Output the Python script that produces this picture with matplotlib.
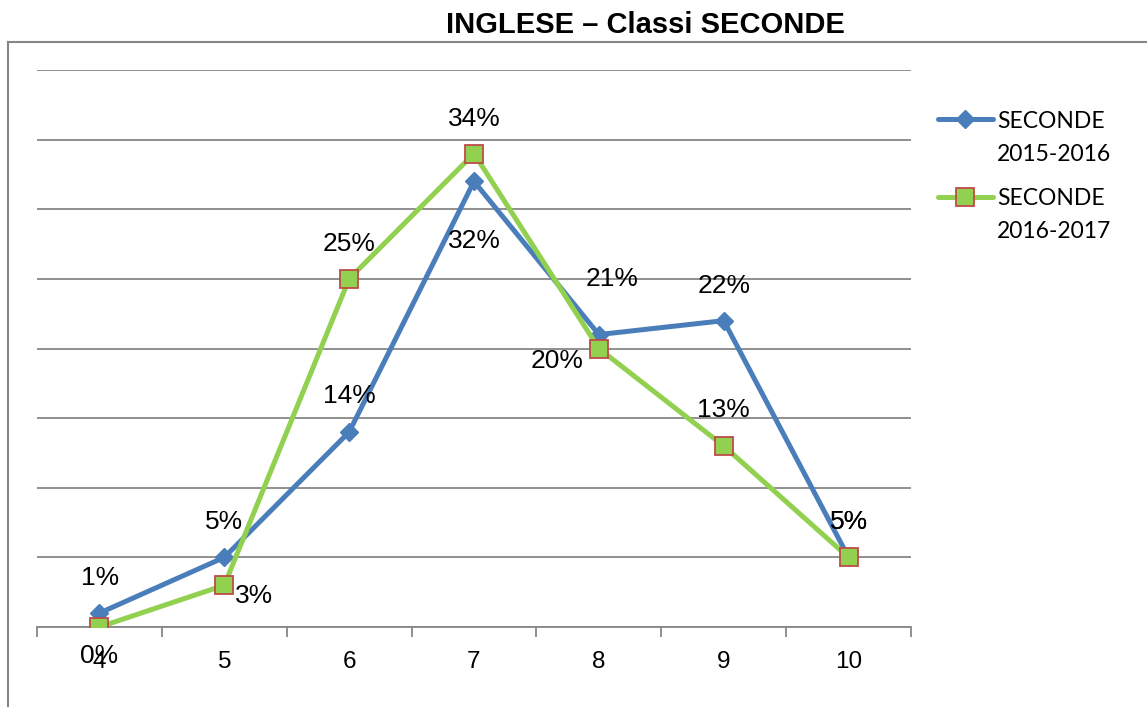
import matplotlib.pyplot as plt
from matplotlib.lines import Line2D
from matplotlib.legend_handler import HandlerLine2D
import numpy as np

# data
voti = ['4', '5', '6', '7', '8', '9', '10']
seconde_1516 = [1, 5, 14, 32, 21, 22, 5]
seconde_1617 = [0, 3, 25, 34, 20, 13, 5]

# label offsets in pixels (dx, dy) for each point
off_1516 = [(1, 35), (0, 35), (0, 36), (0, -60), (13, 56), (0, 35), (0, 35)]
off_1617 = [(0, -29), (30, -11), (0, 35), (0, 35), (-42, -12), (0, 36), (0, 35)]


class TopLineHandler(HandlerLine2D):
    # put the legend line next to the first text row, like Excel does
    def create_artists(self, legend, orig_handle, xdescent, ydescent, width,
                       height, fontsize, trans):
        arts = super().create_artists(legend, orig_handle, xdescent, ydescent,
                                      width, height, fontsize, trans)
        for a in arts:
            a.set_ydata(np.asarray(a.get_ydata()) + 13.5)
        return arts


fig = plt.figure(figsize=(11.47, 7.07), dpi=100)
W, H = 1147, 707
ax = fig.add_axes([37 / W, 1 - 627 / H, (911 - 37) / W, (627 - 70) / H])

x = np.arange(len(voti))
blue = '#4A7EBB'
green = '#92D050'

l1, = ax.plot(x, seconde_1516, color=blue, lw=3.6, marker='D', markersize=9,
              markerfacecolor=blue, markeredgecolor=blue, label='SECONDE\n2015-2016',
              solid_capstyle='round', zorder=3)
l2, = ax.plot(x, seconde_1617, color=green, lw=3.6, marker='s', markersize=13,
              markerfacecolor=green, markeredgecolor='#BE4B48', markeredgewidth=1.3,
              label='SECONDE\n2016-2017', solid_capstyle='round', zorder=4)

for i in range(len(x)):
    ax.annotate(f'{seconde_1516[i]}%', (x[i], seconde_1516[i]), xytext=off_1516[i],
                textcoords='offset pixels', ha='center', va='center',
                fontsize=19, family='Liberation Sans', zorder=5)
    ax.annotate(f'{seconde_1617[i]}%', (x[i], seconde_1617[i]), xytext=off_1617[i],
                textcoords='offset pixels', ha='center', va='center',
                fontsize=19, family='Liberation Sans', zorder=5)

ax.set_xlim(-0.5, len(voti) - 0.5)
ax.set_ylim(0, 40)
ax.set_yticks(np.arange(0, 41, 5))
ax.set_yticklabels([])
ax.tick_params(axis='y', length=0)
ax.yaxis.grid(True, color='#878787', lw=1.3)
ax.set_axisbelow(True)

ax.set_xticks(np.arange(-0.5, len(voti), 1))
ax.set_xticklabels([])
ax.set_xticks(x, minor=True)
ax.set_xticklabels(voti, minor=True, fontsize=17.5, family='Liberation Sans')
ax.tick_params(axis='x', which='major', length=7, color='#878787', width=1.3)
ax.tick_params(axis='x', which='minor', length=0, pad=17.5)

for s in ['top', 'right', 'left']:
    ax.spines[s].set_visible(False)
ax.spines['bottom'].set_color('#878787')
ax.spines['bottom'].set_linewidth(1.3)

leg = ax.legend(loc='upper left', bbox_to_anchor=(917 / W, 1 - 90 / H),
                bbox_transform=fig.transFigure, frameon=False,
                prop={'family': 'Lato', 'size': 16.5}, handlelength=2.4,
                handletextpad=0.2, labelspacing=1.03,
                handler_map={l1: TopLineHandler(), l2: TopLineHandler()})
for t in leg.get_texts():
    t.set_linespacing(1.7)

fig.text(645 / W, 1 - 25 / H, 'INGLESE \u2013 Classi SECONDE', ha='center', va='center',
         fontsize=21, fontweight='bold', family='Liberation Sans')

# outer frame
fig.add_artist(Line2D([8 / W, 8 / W], [0, 1 - 42 / H], transform=fig.transFigure,
                      color='#868686', lw=1.5))
fig.add_artist(Line2D([8 / W, 1], [1 - 42 / H, 1 - 42 / H], transform=fig.transFigure,
                      color='#868686', lw=1.5))

fig.savefig('out.png', dpi=100)
